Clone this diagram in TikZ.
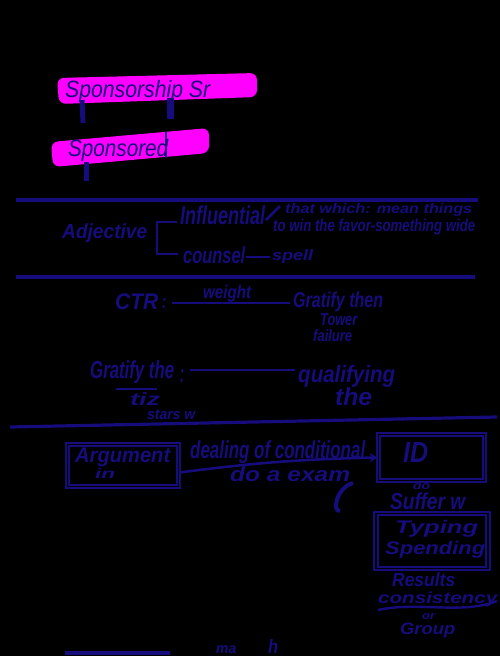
\documentclass[tikz,border=0pt]{standalone}
\usepackage{fontspec}
\usepackage{graphicx}
\setmainfont{Liberation Sans}
\usetikzlibrary{arrows.meta}
\definecolor{ink}{RGB}{22,12,124}
\definecolor{hl}{RGB}{255,0,255}
\newcommand\hwb[3]{\resizebox*{#1pt}{#2pt}{#3}}
\tikzset{
  hw/.style={text=ink,font=\bfseries\itshape,inner sep=0pt,anchor=north west},
  ttl/.style={text=ink,font=\itshape,inner sep=0pt,anchor=north west},
  rule/.style={draw=ink,line width=3.5pt},
  inkline/.style={draw=ink,line width=2.6pt},
  dbox/.style={draw=ink,line width=1.8pt,double=black,double distance=1.8pt},
}
\begin{document}
\begin{tikzpicture}[x=1pt,y=-1pt]
\fill[black] (0,0) rectangle (500,656);
\useasboundingbox (0,0) rectangle (500,656);
% highlights
\fill[hl,rounded corners=7pt] (57,78) -- (257,73) -- (257,97) -- (59,104) -- cycle;
\fill[hl,rounded corners=7pt] (51,142) -- (209,128) -- (209,153) -- (53,167) -- cycle;
\node[ttl] (s1) at (65,80) {\hwb{145}{22}{Sponsorship Sr}};
\node[ttl] (s2) at (68,139) {\hwb{100}{22}{Sponsored}};
\draw[ink,line width=5pt] (82,100) -- (83,123);
\draw[ink,line width=7pt] (170,98) -- (170,119);
\draw[ink,line width=2pt] (166,132) -- (166,158);
\draw[ink,line width=5pt] (86,162) -- (86,181);
% rule 1
\draw[rule] (16,200) -- (478,200);
% adjective block
\node[hw] (adj) at (62,224) {\hwb{85}{19}{Adjective}};
\coordinate (bt) at (177,222);
\coordinate (bb) at (178,254);
\draw[inkline] (bt) -- (157,222) -- (157,254) -- (bb);
\node[hw] (infl) at (180,206) {\hwb{85}{19}{Influential}};
\draw[inkline] (266,220) -- (280,206);
\node[hw] (inflA) at (285,203) {\hwb{187}{13}{that which: mean things}};
\node[hw] (inflB) at (273,219) {\hwb{202}{16}{to win the favor-something wide}};
\node[hw] (couns) at (183,247) {\hwb{62}{17}{counsel}};
\draw[inkline] (246,257) -- (270,257);
\node[hw] (spell) at (272,249) {\hwb{41}{14}{spell}};
% rule 2
\draw[rule] (16,277) -- (475,277);
% CTR
\node[hw] (ctr) at (115,294) {\hwb{43}{16}{CTR}};
\node[hw] (ctrc) at (162,298) {\hwb{4}{10}{:}};
\node[hw] (wt) at (203,285) {\hwb{48}{17}{weight}};
\coordinate (l1a) at (172,303);
\coordinate (l1b) at (290,303);
\draw[inkline] (l1a) -- (l1b);
\node[hw] (grt) at (293,292) {\hwb{90}{20}{Gratify then}};
\node[hw] (tow) at (320,313) {\hwb{37}{12}{Tower}};
\node[hw] (fail) at (313,329) {\hwb{39}{12}{failure}};
% gratify
\node[hw] (gra) at (90,360) {\hwb{84}{23}{Gratify the}};
\node[hw] (col) at (180,369) {\hwb{4}{13}{:}};
\coordinate (l2a) at (190,370);
\coordinate (l2b) at (295,370);
\draw[inkline] (l2a) -- (l2b);
\node[hw] (qual) at (298,365) {\hwb{97}{22}{qualifying}};
\node[hw] (the) at (335,388) {\hwb{37}{18}{the}};
\draw[ink,line width=2.4pt] (116,389) -- (157,389);
\node[hw] (tiz) at (130,392) {\hwb{30}{13}{tiz}};
\node[hw] (stars) at (147,409) {\hwb{48}{10}{stars w}};
% tilted rule
\draw[ink,line width=3.2pt] (10,427) -- (497,417);
% boxes
\node[dbox,minimum width=111pt,minimum height=42pt] (b1) at (123,465.5) {};
\node[hw] (b1t) at (75,448) {\hwb{95}{19}{Argument}};
\node[hw] (b1u) at (95,468) {\hwb{20}{10}{in}};
\node[dbox,minimum width=106pt,minimum height=46pt] (b2) at (431.5,457.5) {};
\node[hw] (b2t) at (403,442) {\hwb{25}{20}{ID}};
\draw[inkline,-{Stealth[length=8pt,width=9pt]}] (b1.east) ++(0,7) to[bend left=3] (b2.west);
\node[hw] (lab1) at (190,440) {\hwb{175}{23}{dealing of conditional}};
\node[hw] (lab2) at (230,467) {\hwb{120}{15}{do a exam}};
\draw[ink,line width=4pt] (353,483) .. controls (336,488) and (332,512) .. (340,511);
\node[hw] (do) at (413,481) {\hwb{17}{8}{do}};
\node[hw] (suf) at (390,493) {\hwb{75}{17}{Suffer w}};
\node[dbox,minimum width=112pt,minimum height=55pt] (b3) at (432,541) {};
\node[hw] (b3a) at (395,520) {\hwb{83}{17}{Typing}};
\node[hw] (b3b) at (385,541) {\hwb{100}{17}{Spending}};
\node[hw] (res) at (392,572) {\hwb{63}{14}{Results}};
\node[hw] (cons) at (378,592) {\hwb{119}{15}{consistency}};
\draw[ink,line width=2.4pt] (378,610) .. controls (420,601) and (460,615) .. (497,601);
\node[hw] (or) at (422,613) {\hwb{13}{6}{or}};
\node[hw] (grp) at (400,623) {\hwb{55}{15}{Group}};
% bottom fragments
\draw[ink,line width=4pt] (65,653) -- (170,653);
\node[hw] (bt1) at (216,645) {\hwb{20}{8}{ma}};
\node[hw] (bt2) at (268,639) {\hwb{10}{14}{h}};
\end{tikzpicture}
\end{document}
